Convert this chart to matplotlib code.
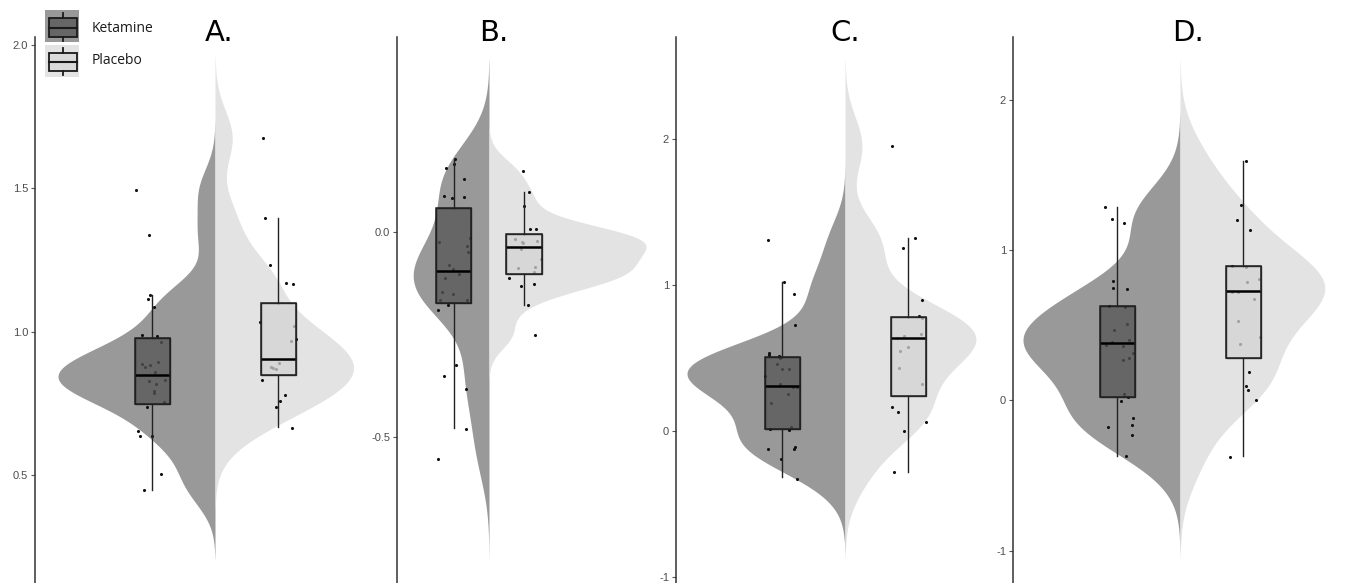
import numpy as np
import matplotlib
matplotlib.use("Agg")
import matplotlib.pyplot as plt
from matplotlib.patches import Rectangle

# ---------------- data ----------------
groups = ["Ketamine", "Placebo"]
panel_titles = ["A.", "B.", "C.", "D."]

a_ket = [1.494, 1.336, 1.128, 1.114, 1.087, 0.988, 0.985, 0.963, 0.895, 0.886, 0.876, 0.883,
         0.859, 0.827, 0.830, 0.816, 0.794, 0.787, 0.754, 0.737, 0.652, 0.635, 0.636, 0.505, 0.448]
a_ket_jit = [-16, -3, -2, -4, 2, -10, 5, 9, 6, -10, -7, -2, 3, -3, 13, 4, 2, 2, 12, -5, -14, -12, 0, 9, -8]
a_pla = [1.677, 1.395, 1.233, 1.170, 1.166, 1.035, 1.021, 0.975, 0.967, 0.890, 0.878, 0.872,
         0.870, 0.832, 0.778, 0.758, 0.736, 0.665]
a_pla_jit = [-15, -13, -8, 8, 15, -18, 16, 18, 13, 1, -7, -5, -2, -16, 7, 2, -2, 14]

b_ket = [0.178, 0.165, 0.155, 0.130, 0.088, 0.084, 0.086, -0.014, -0.025, -0.034, -0.048, -0.081,
         -0.089, -0.103, -0.111, -0.146, -0.150, -0.166, -0.166, -0.177, -0.189, -0.325, -0.350,
         -0.382, -0.480, -0.554]
b_ket_jit = [1, 0, -8, 10, -10, -2, 10, 16, -15, 13, 14, -5, -1, 5, -9, -12, -1, -14, 13, -6, -16,
             2, -10, 12, 12, -16]
b_pla = [0.150, 0.098, 0.063, 0.007, 0.007, -0.018, -0.024, -0.027, -0.022, -0.041, -0.067, -0.087,
         -0.085, -0.097, -0.111, -0.131, -0.127, -0.179, -0.251]
b_pla_jit = [-1, 5, 0, 6, 12, -9, -2, -1, 13, -3, 17, -6, 11, 10, -15, -3, 10, 4, 11]

c_ket = [1.306, 1.021, 0.936, 0.726, 0.536, 0.521, 0.511, 0.498, 0.461, 0.422, 0.422, 0.379,
         0.320, 0.304, 0.299, 0.256, 0.190, 0.012, 0.007, 0.025, -0.125, -0.107, -0.121, -0.192, -0.326]
c_ket_jit = [-14, 2, 12, 13, -13, -13, -3, -2, -5, 0, 7, -17, -2, 11, 15, 6, -11, -12, 7, 9, -14,
             13, 12, -1, 15]
c_pla = [1.954, 1.320, 1.256, 0.897, 0.788, 0.772, 0.664, 0.635, 0.648, 0.573, 0.548, 0.432,
         0.320, 0.167, 0.132, 0.059, 0.002, -0.283]
c_pla_jit = [-16, 7, -5, 14, 11, 14, 13, -11, -4, 0, -8, -9, 14, -16, -10, 18, -4, -14]

d_ket = [1.286, 1.204, 1.177, 0.793, 0.749, 0.743, 0.630, 0.623, 0.508, 0.466, 0.401, 0.386,
         0.366, 0.359, 0.315, 0.284, 0.271, 0.041, 0.021, -0.001, -0.119, -0.163, -0.176, -0.232, -0.371]
d_ket_jit = [-12, -5, 7, -4, -4, 10, -8, 8, 10, -3, 12, -5, -11, 6, 16, 12, 6, 7, 11, 4, 16, 15,
             -9, 15, 9]
d_pla = [1.591, 1.297, 1.202, 1.133, 0.894, 0.887, 0.807, 0.787, 0.721, 0.721, 0.674, 0.528,
         0.422, 0.373, 0.191, 0.096, 0.072, 0.003, -0.375]
d_pla_jit = [3, -2, -6, 7, -11, 3, 16, 4, -11, -5, 11, -5, 17, -3, 6, 3, 5, 13, -13]

# box stats: [lower whisker, Q1, median, Q3, upper whisker]
a_ket_box = [0.448, 0.747, 0.848, 0.977, 1.128]
a_pla_box = [0.669, 0.850, 0.905, 1.101, 1.395]
b_ket_box = [-0.477, -0.174, -0.096, 0.059, 0.179]
b_pla_box = [-0.178, -0.103, -0.037, -0.005, 0.098]
c_ket_box = [-0.317, 0.014, 0.310, 0.509, 1.021]
c_pla_box = [-0.279, 0.242, 0.639, 0.779, 1.320]
d_ket_box = [-0.367, 0.021, 0.380, 0.630, 1.286]
d_pla_box = [-0.369, 0.284, 0.726, 0.894, 1.591]

# density bandwidths [ketamine, placebo]
a_bw = [0.080, 0.095]
b_bw = [0.081, 0.036]
c_bw = [0.170, 0.197]
d_bw = [0.208, 0.226]

a_ticks = [0.5, 1.0, 1.5, 2.0]
a_ticklabels = ["0.5", "1.0", "1.5", "2.0"]
b_ticks = [-0.5, 0.0]
b_ticklabels = ["-0.5", "0.0"]
c_ticks = [-1, 0, 1, 2]
c_ticklabels = ["-1", "0", "1", "2"]
d_ticks = [-1, 0, 1, 2]
d_ticklabels = ["-1", "0", "1", "2"]

# ---------------- layout / style ----------------
W, H = 1352, 583
TOP = 37
VIOL_COL = ["#999999", "#e3e3e3"]
BOX_COL = ["#555555", "#d4d4d4"]
BOX_ALPHA = 0.75

panels = [
    dict(ket=a_ket, kj=a_ket_jit, pla=a_pla, pj=a_pla_jit, kb=a_ket_box, pb=a_pla_box, bw=a_bw,
         ticks=a_ticks, tl=a_ticklabels, left=35, split=215, right=368, dodge=63,
         ylim=(0.1233, 2.0279), hw=157),
    dict(ket=b_ket, kj=b_ket_jit, pla=b_pla, pj=b_pla_jit, kb=b_ket_box, pb=b_pla_box, bw=b_bw,
         ticks=b_ticks, tl=b_ticklabels, left=397, split=489, right=652, dodge=35,
         ylim=(-0.856, 0.4756), hw=157),
    dict(ket=c_ket, kj=c_ket_jit, pla=c_pla, pj=c_pla_jit, kb=c_ket_box, pb=c_pla_box, bw=c_bw,
         ticks=c_ticks, tl=c_ticklabels, left=676, split=845, right=990, dodge=63,
         ylim=(-1.041, 2.699), hw=158),
    dict(ket=d_ket, kj=d_ket_jit, pla=d_pla, pj=d_pla_jit, kb=d_ket_box, pb=d_pla_box, bw=d_bw,
         ticks=d_ticks, tl=d_ticklabels, left=1013, split=1180, right=1348, dodge=63,
         ylim=(-1.213, 2.416), hw=157),
]
title_x = [219, 494, 845, 1188]


def kde(vals, bw):
    v = np.asarray(vals, float)
    n = len(v)
    grid = np.linspace(v.min() - 3 * bw, v.max() + 3 * bw, 512)
    dens = np.exp(-0.5 * ((grid[:, None] - v[None, :]) / bw) ** 2).sum(1) / (n * bw * np.sqrt(2 * np.pi))
    return grid, dens


fig = plt.figure(figsize=(W / 100, H / 100), dpi=100)

for p in panels:
    ax = fig.add_axes([p["left"] / W, 0, (p["right"] - p["left"]) / W, (H - TOP) / H])
    ax.set_xlim(p["left"] - p["split"], p["right"] - p["split"])
    ax.set_ylim(*p["ylim"])
    ax.patch.set_alpha(0)

    gk, dk = kde(p["ket"], p["bw"][0])
    gp, dp = kde(p["pla"], p["bw"][1])
    m = max(dk.max(), dp.max())
    ax.fill_betweenx(gk, 0, -p["hw"] * dk / m, color=VIOL_COL[0], lw=0, zorder=1)
    ax.fill_betweenx(gp, 0, p["hw"] * dp / m, color=VIOL_COL[1], lw=0, zorder=1)

    for i, (vals, jit, box) in enumerate([(p["ket"], p["kj"], p["kb"]), (p["pla"], p["pj"], p["pb"])]):
        pos = -p["dodge"] if i == 0 else p["dodge"]
        ax.scatter(pos + np.asarray(jit), vals, s=5, color="#111111", lw=0, zorder=2)
        st = dict(whislo=box[0], q1=box[1], med=box[2], q3=box[3], whishi=box[4], fliers=[])
        ax.bxp([st], positions=[pos], widths=35, showfliers=False, showcaps=False,
               patch_artist=True,
               boxprops=dict(facecolor=BOX_COL[i], alpha=BOX_ALPHA, edgecolor="black", linewidth=1.0),
               medianprops=dict(color="black", linewidth=1.8),
               whiskerprops=dict(color="#222222", linewidth=1.0),
               zorder=3)
        ax.add_patch(Rectangle((pos - 17.5, box[1]), 35, box[3] - box[1], fill=False,
                               edgecolor="#222222", lw=1.1, zorder=4))

    for s in ["top", "right", "bottom"]:
        ax.spines[s].set_visible(False)
    ax.spines["left"].set_color("#333333")
    ax.spines["left"].set_linewidth(1.1)
    ax.set_xticks([])
    ax.set_yticks(p["ticks"])
    ax.set_yticklabels(p["tl"])
    ax.tick_params(axis="y", length=3, width=0.8, color="#555555", labelcolor="#4d4d4d",
                   labelsize=8, pad=2)
    for t in ax.get_yticklabels():
        t.set_fontfamily("Liberation Sans")

# overlay canvas for titles and legend
ov = fig.add_axes([0, 0, 1, 1])
ov.set_xlim(0, W)
ov.set_ylim(H, 0)
ov.axis("off")
ov.patch.set_alpha(0)

for t, x in zip(panel_titles, title_x):
    ov.text(x, 33, t, ha="center", va="center", fontsize=21, family="DejaVu Sans", color="black")

# legend
key_specs = [
    dict(bg=(45, 10, 34, 32), box=(49, 18, 28, 19), med=27.5, wh=((13, 18), (37, 41)), ty=28),
    dict(bg=(45, 45, 34, 32), box=(49, 53, 28, 18), med=61.5, wh=((48, 53), (71, 75)), ty=60),
]
leg_box_face = ["#666666", "#dadada"]
for i, (g, k) in enumerate(zip(groups, key_specs)):
    bx, by, bw_, bh = k["bg"]
    ov.add_patch(Rectangle((bx, by), bw_, bh, facecolor=VIOL_COL[i], edgecolor="none"))
    x0, y0, w0, h0 = k["box"]
    ov.add_patch(Rectangle((x0, y0), w0, h0, facecolor=leg_box_face[i], edgecolor="#1a1a1a", lw=1.3))
    ov.plot([x0, x0 + w0], [k["med"], k["med"]], color="#1a1a1a", lw=1.5)
    cx = x0 + w0 / 2
    for a, b in k["wh"]:
        ov.plot([cx, cx], [a, b], color="#1a1a1a", lw=1.3)
    ov.text(92, k["ty"], g, ha="left", va="center", fontsize=10, family="Open Sans", color="#1a1a1a")

fig.savefig("out.png", dpi=100)
